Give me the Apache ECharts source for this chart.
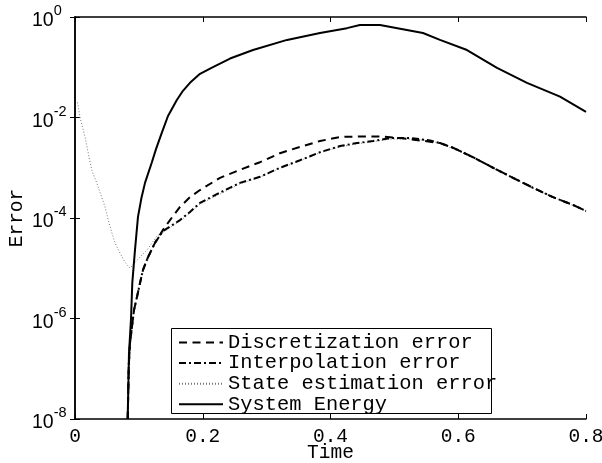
<!DOCTYPE html>
<html>
<head>
<meta charset="utf-8">
<script src="https://cdn.jsdelivr.net/npm/echarts@6/dist/echarts.min.js"></script>
<style>html,body{margin:0;padding:0;background:#fff}#c{width:602px;height:463px}</style>
</head>
<body>
<div id="c"></div>
<script>
var seriesNames = ['Discretization error', 'Interpolation error', 'State estimation error', 'System Energy'];
var xTicks = [0, 0.2, 0.4, 0.6, 0.8];
var yTickExps = ['0', '-2', '-4', '-6', '-8'];

var tDisc = [0.0825,0.0841,0.0861,0.0892,0.0924,0.0971,0.1018,0.1065,0.1143,0.1252,0.1378,0.1487,0.1644,0.180,0.1957,0.227,0.2583,0.2896,0.3209,0.3523,0.3836,0.4149,0.4462,0.4775,0.5088,0.540,0.5714,0.5918,0.6231,0.6544,0.6857,0.717,0.7483,0.7796,0.80];
var eDisc = [1e-8,1.07e-7,3.2e-7,6.8e-7,1.48e-6,2.7e-6,5.1e-6,9.3e-6,1.66e-5,3.2e-5,5.8e-5,9.1e-5,1.66e-4,2.6e-4,3.6e-4,6.3e-4,9.1e-4,1.29e-3,1.95e-3,2.6e-3,3.4e-3,4.1e-3,4.2e-3,4.2e-3,3.9e-3,3.5e-3,3.1e-3,2.5e-3,1.62e-3,1.0e-3,6.3e-4,4.0e-4,2.6e-4,1.82e-4,1.38e-4];

var tInterp = [0.0825,0.0841,0.0861,0.0892,0.0924,0.0971,0.1018,0.1065,0.1143,0.1252,0.1378,0.1644,0.180,0.1957,0.227,0.2583,0.2896,0.3209,0.3523,0.3836,0.4149,0.4415,0.4665,0.4932,0.5245,0.5558,0.5714,0.5918,0.6231,0.6544,0.6857,0.717,0.7483,0.7796,0.80];
var eInterp = [1e-8,1.07e-7,3.2e-7,6.8e-7,1.48e-6,2.7e-6,5.1e-6,9.3e-6,1.66e-5,3.2e-5,5.5e-5,9.1e-5,1.32e-4,2.0e-4,3.2e-4,5.0e-4,6.6e-4,1.0e-3,1.41e-3,2.04e-3,2.7e-3,3.1e-3,3.4e-3,3.9e-3,3.9e-3,3.5e-3,3.1e-3,2.5e-3,1.62e-3,1.0e-3,6.3e-4,4.0e-4,2.6e-4,1.82e-4,1.38e-4];

var tState = [0.004,0.0078,0.0157,0.0208,0.0261,0.034,0.0418,0.047,0.0521,0.0575,0.0626,0.0705,0.0783,0.0861,0.0971,0.1127,0.1284,0.1378,0.1644,0.180,0.1957,0.227,0.2583,0.2896,0.3209,0.3523,0.3836,0.4149,0.4415,0.4665,0.4932,0.5245,0.5558,0.5714,0.5918,0.6231,0.6544,0.6857,0.717,0.7483,0.7796,0.80];
var eState = [2.0e-2,1.02e-2,4.1e-3,1.95e-3,9.1e-4,5.0e-4,2.6e-4,1.66e-4,9.1e-5,5.2e-5,3.2e-5,2.0e-5,1.32e-5,1.0e-5,1.45e-5,2.3e-5,4.4e-5,5.2e-5,8.7e-5,1.26e-4,1.9e-4,3.0e-4,4.8e-4,6.5e-4,9.8e-4,1.38e-3,2.0e-3,2.6e-3,3.0e-3,3.3e-3,3.7e-3,3.7e-3,3.5e-3,3.0e-3,2.4e-3,1.58e-3,9.8e-4,6.2e-4,3.9e-4,2.6e-4,1.78e-4,1.35e-4];

var tEnergy = [0.0825,0.0845,0.0877,0.0897,0.0939,0.0986,0.1040,0.1096,0.1201,0.1268,0.1357,0.1456,0.1592,0.169,0.180,0.1957,0.216,0.2427,0.2787,0.332,0.3836,0.4258,0.446,0.4775,0.5448,0.5714,0.6137,0.6607,0.7076,0.7593,0.80];
var eEnergy = [1e-8,2e-7,1e-6,5.1e-6,2.3e-5,1.05e-4,2.5e-4,5.0e-4,1.26e-3,2.35e-3,4.9e-3,1.07e-2,2.2e-2,3.4e-2,4.9e-2,0.074,0.101,0.149,0.22,0.35,0.48,0.60,0.69,0.69,0.48,0.35,0.22,0.097,0.049,0.026,0.0129];

function pairs(t, e) { return t.map(function (v, i) { return [v, e[i]]; }); }

var chart = echarts.init(document.getElementById('c'), null, {renderer: 'canvas'});
var mono = 'Liberation Mono';
var axisLine = {show: true, lineStyle: {color: '#000', width: 1.5}};
var tick = {show: true, inside: true, length: 5, lineStyle: {color: '#000', width: 1}};

chart.setOption({
  animation: false,
  backgroundColor: '#fff',
  grid: {left: 75, right: 16, top: 17, bottom: 44, containLabel: false, outerBoundsMode: 'none'},
  legend: {
    orient: 'vertical', left: 178, top: 332.5, padding: 0,
    itemWidth: 44, itemHeight: 14, itemGap: 0.6,
    data: seriesNames,
    itemStyle: {opacity: 0},
    textStyle: {fontFamily: mono, fontSize: 20.4, color: '#000'},
    z: 5
  },
  graphic: [{
    type: 'rect', left: 171, top: 328, z: 4,
    shape: {width: 320, height: 85},
    style: {fill: '#fff', stroke: '#000', lineWidth: 1}
  }],
  xAxis: [{
    type: 'value', min: 0, max: 0.8, interval: 0.2, position: 'bottom',
    name: 'Time', nameLocation: 'middle', nameGap: 24, nameMoveOverlap: false,
    nameTextStyle: {fontFamily: mono, fontSize: 19.5, color: '#000'},
    axisLine: axisLine, axisTick: tick, splitLine: {show: false},
    axisLabel: {fontFamily: mono, fontSize: 19.5, color: '#000', margin: 8,
      formatter: function (v) { return String(v); }}
  }, {
    type: 'value', min: 0, max: 0.8, interval: 0.2, position: 'top',
    axisLine: axisLine, axisTick: tick, splitLine: {show: false}, axisLabel: {show: false}
  }],
  yAxis: [{
    type: 'log', logBase: 10, min: 1e-8, max: 1, interval: 2, position: 'left',
    name: 'Error', nameLocation: 'middle', nameGap: 48, nameMoveOverlap: false,
    nameTextStyle: {fontFamily: mono, fontSize: 19.5, color: '#000'},
    axisLine: axisLine, axisTick: tick, splitLine: {show: false}, minorTick: {show: false},
    axisLabel: {
      align: 'left', margin: 43, color: '#000',
      formatter: function (v) {
        var ex = Math.round(Math.log(v) / Math.LN10);
        return '{b|10}{s|' + ex + '}';
      },
      rich: {
        b: {fontFamily: 'Liberation Sans', fontSize: 19.5, color: '#000', padding: [8, 0, 0, 0]},
        s: {fontFamily: 'Liberation Sans', fontSize: 14.5, color: '#000', padding: [0, 0, 12, 0]}
      }
    }
  }, {
    type: 'log', logBase: 10, min: 1e-8, max: 1, interval: 2, position: 'right',
    axisLine: axisLine, axisTick: tick, splitLine: {show: false}, axisLabel: {show: false}
  }],
  series: [{
    name: seriesNames[0], type: 'line', data: pairs(tDisc, eDisc), showSymbol: false, symbol: 'none',
    lineStyle: {color: '#000', width: 2, type: [8, 5.5]}, itemStyle: {color: '#000'}, z: 3
  }, {
    name: seriesNames[1], type: 'line', data: pairs(tInterp, eInterp), showSymbol: false, symbol: 'none',
    lineStyle: {color: '#000', width: 2, type: [7, 3, 2, 3]}, itemStyle: {color: '#000'}, z: 3
  }, {
    name: seriesNames[2], type: 'line', data: pairs(tState, eState), showSymbol: false, symbol: 'none',
    lineStyle: {color: '#777', width: 1, type: [1, 2]}, itemStyle: {color: '#777'}, z: 2
  }, {
    name: seriesNames[3], type: 'line', data: pairs(tEnergy, eEnergy), showSymbol: false, symbol: 'none',
    lineStyle: {color: '#000', width: 2, type: 'solid'}, itemStyle: {color: '#000'}, z: 3
  }]
});
</script>
</body>
</html>
